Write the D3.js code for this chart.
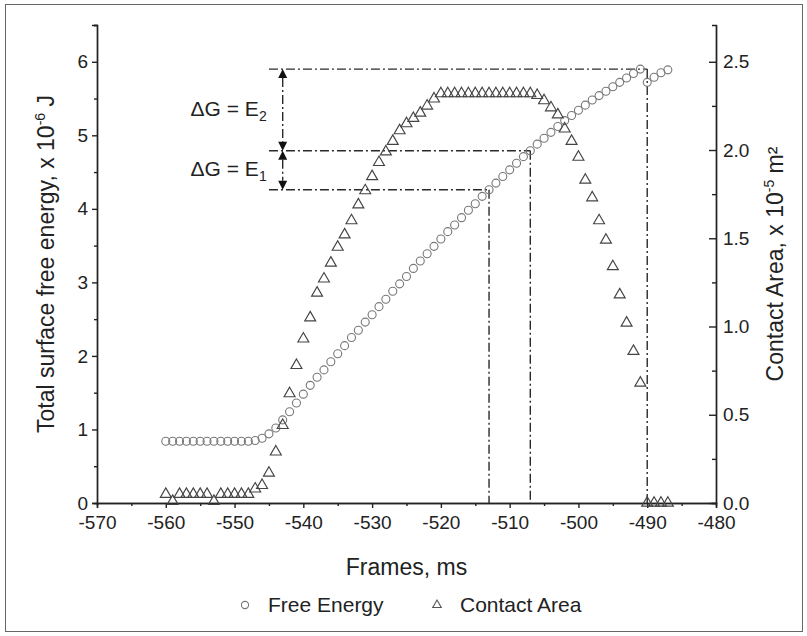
<!DOCTYPE html>
<html>
<head>
<meta charset="utf-8">
<script src="https://cdn.jsdelivr.net/npm/d3@7"></script>
<style>
  body { margin: 0; background: #fff; }
  text { font-family: "Liberation Sans", Arial, sans-serif; fill: #222; }
</style>
</head>
<body>
<div class="chart"></div>
<script>
// frames (ms), shared by both series
const frames = [
  -560, -559, -558, -557, -556, -555, -554, -553, -552, -551, -550, -549, -548, -547,
  -546, -545, -544, -543, -542, -541, -540, -539, -538, -537, -536, -535, -534, -533,
  -532, -531, -530, -529, -528, -527, -526, -525, -524, -523, -522, -521, -520, -519,
  -518, -517, -516, -515, -514, -513, -512, -511, -510, -509, -508, -507, -506, -505,
  -504, -503, -502, -501, -500, -499, -498, -497, -496, -495, -494, -493, -492, -491,
  -490, -489, -488, -487
]

// total surface free energy, x 10^-6 J
const energy = [
  0.84, 0.84, 0.84, 0.84, 0.84, 0.84, 0.84, 0.84, 0.84, 0.84, 0.84, 0.84, 0.84, 0.85,
  0.88, 0.94, 1.02, 1.13, 1.24, 1.36, 1.48, 1.60, 1.71, 1.81, 1.92, 2.03, 2.14, 2.25,
  2.35, 2.46, 2.56, 2.67, 2.77, 2.88, 2.98, 3.08, 3.19, 3.29, 3.39, 3.49, 3.59, 3.69,
  3.78, 3.88, 3.98, 4.07, 4.17, 4.26, 4.35, 4.44, 4.53, 4.62, 4.71, 4.79, 4.88, 4.96,
  5.04, 5.12, 5.20, 5.27, 5.34, 5.41, 5.48, 5.54, 5.60, 5.66, 5.72, 5.78, 5.84, 5.90,
  5.72, 5.79, 5.85, 5.89
]

// contact area, x 10^-5 m2
const area = [
  0.05, 0.01, 0.05, 0.05, 0.05, 0.05, 0.05, 0.01, 0.05, 0.05, 0.05, 0.05, 0.05, 0.08,
  0.10, 0.17, 0.29, 0.44, 0.62, 0.78, 0.93, 1.05, 1.19, 1.27, 1.36, 1.45, 1.52, 1.60,
  1.69, 1.77, 1.85, 1.93, 1.99, 2.05, 2.11, 2.15, 2.18, 2.21, 2.25, 2.29, 2.32, 2.32,
  2.32, 2.32, 2.32, 2.32, 2.32, 2.32, 2.32, 2.32, 2.32, 2.32, 2.32, 2.32, 2.31, 2.28,
  2.24, 2.20, 2.12, 2.05, 1.96, 1.83, 1.73, 1.60, 1.49, 1.34, 1.18, 1.02, 0.86, 0.68,
  0.00, 0.00, 0.00, 0.00
]

const xTicks = [-570, -560, -550, -540, -530, -520, -510, -500, -490, -480]
const leftTicks = [0, 1, 2, 3, 4, 5, 6]
const rightTicks = [0, 0.5, 1.0, 1.5, 2.0, 2.5]

// dash-dot guide lines: energy levels and the frames where they are reached
const levelE = [5.90, 4.79, 4.26]
const levelFrame = [-490, -507, -513]
const guideStart = -545
const arrowFrame = -543

const width = 807
const height = 636
const plotL = 97, plotR = 716, plotT = 25, plotB = 503
const tickFont = "19px", titleFont = "23px", legendFont = "21px"

const x = d3.scaleLinear().domain([-570, -480]).range([plotL, plotR])
const y = d3.scaleLinear().domain([0, 6.5]).range([plotB, plotT])
const y2 = d3.scaleLinear().domain([0, 6.5 * 2.5 / 6]).range([plotB, plotT])

const svg = d3.select(".chart").append("svg")
  .attr("width", width)
  .attr("height", height)

svg.append("rect")
  .attr("x", 5.5).attr("y", 4.5)
  .attr("width", 797).attr("height", 627)
  .attr("fill", "none").attr("stroke", "#666").attr("stroke-width", 1)

function styleAxis(g) {
  g.selectAll(".domain, line").attr("stroke", "#222").attr("stroke-width", 1.4)
  g.selectAll("text").attr("font-size", tickFont).attr("fill", "#222")
    .attr("font-family", "Liberation Sans, Arial, sans-serif")
}

// minor ticks
const xMinor = xTicks.slice(0, -1).map(v => v + 5)
svg.append("g").attr("transform", `translate(0,${plotB})`)
  .call(d3.axisBottom(x).tickValues(xMinor).tickFormat("").tickSize(3))
  .call(styleAxis)
const leftMinor = leftTicks.map(v => v + 0.5)
svg.append("g").attr("transform", `translate(${plotL},0)`)
  .call(d3.axisLeft(y).tickValues(leftMinor).tickFormat("").tickSize(3))
  .call(styleAxis)
const rightMinor = rightTicks.slice(0, -1).map(v => v + 0.25)
svg.append("g").attr("transform", `translate(${plotR},0)`)
  .call(d3.axisRight(y2).tickValues(rightMinor).tickFormat("").tickSizeInner(-4).tickSizeOuter(-4))
  .call(styleAxis)

// major axes
svg.append("g").attr("transform", `translate(0,${plotB})`)
  .call(d3.axisBottom(x).tickValues(xTicks).tickFormat(d => String(d)).tickSize(5).tickPadding(8))
  .call(styleAxis)
svg.append("g").attr("transform", `translate(${plotL},0)`)
  .call(d3.axisLeft(y).tickValues(leftTicks).tickFormat(d => String(d)).tickSize(5).tickPadding(4))
  .call(styleAxis)
svg.append("g").attr("transform", `translate(${plotR},0)`)
  .call(d3.axisRight(y2).tickValues(rightTicks).tickFormat(d3.format(".1f")).tickSizeInner(-7).tickSizeOuter(0).tickPadding(7))
  .call(styleAxis)

// guide lines
const dash = "9,3,2,3"
const guides = svg.append("g").attr("stroke", "#2a2a2a").attr("stroke-width", 1.4)
  .attr("stroke-dasharray", dash).attr("fill", "none")
levelE.forEach((e, i) => {
  guides.append("line")
    .attr("x1", x(guideStart)).attr("x2", x(levelFrame[i]))
    .attr("y1", y(e)).attr("y2", y(e))
  guides.append("line")
    .attr("x1", x(levelFrame[i])).attr("x2", x(levelFrame[i]))
    .attr("y1", y(e)).attr("y2", y(0))
})

// double-headed arrows for the two energy gaps
const gaps = [[levelE[0], levelE[1]], [levelE[1], levelE[2]]]
const ax = x(arrowFrame)
const head = 9
gaps.forEach(([hi, lo]) => {
  guides.append("line")
    .attr("x1", ax).attr("x2", ax)
    .attr("y1", y(hi) + head).attr("y2", y(lo) - head)
  svg.append("path")
    .attr("d", `M${ax},${y(hi)} l-4.5,${head} l9,0 z`).attr("fill", "#111")
  svg.append("path")
    .attr("d", `M${ax},${y(lo)} l-4.5,${-head} l9,0 z`).attr("fill", "#111")
})

const gapLabels = ["2", "1"]
gaps.forEach(([hi, lo], i) => {
  const t = svg.append("text")
    .attr("x", ax - 16).attr("y", (y(hi) + y(lo)) / 2 + 6)
    .attr("text-anchor", "end").attr("font-size", "21px")
  t.append("tspan").text("\u0394G = E")
  t.append("tspan").attr("font-size", "14px").attr("dy", 5).text(gapLabels[i])
})

// series
const pts = frames.map((f, i) => ({ f, e: energy[i], a: area[i] }))

svg.append("g").selectAll("circle")
  .data(pts).enter().append("circle")
  .attr("cx", d => x(d.f)).attr("cy", d => y(d.e))
  .attr("r", 4)
  .attr("fill", "none").attr("stroke", "#777").attr("stroke-width", 1.1)

const tri = d3.symbol().type(d3.symbolTriangle).size(52)
svg.append("g").selectAll("path")
  .data(pts).enter().append("path")
  .attr("d", tri)
  .attr("transform", d => `translate(${x(d.f)},${y2(d.a)})`)
  .attr("fill", "none").attr("stroke", "#444").attr("stroke-width", 1.15)

// axis titles
svg.append("text")
  .attr("transform", `translate(${54},${(plotT + plotB) / 2}) rotate(-90)`)
  .attr("text-anchor", "middle").attr("font-size", titleFont)
  .call(t => {
    t.append("tspan").text("Total surface free energy, x 10")
    t.append("tspan").attr("font-size", "14px").attr("dy", -9).text("-6")
    t.append("tspan").attr("dy", 9).text(" J")
  })

svg.append("text")
  .attr("transform", `translate(${783},${(plotT + plotB) / 2}) rotate(-90)`)
  .attr("text-anchor", "middle").attr("font-size", titleFont)
  .call(t => {
    t.append("tspan").text("Contact Area, x 10")
    t.append("tspan").attr("font-size", "14px").attr("dy", -9).text("-5")
    t.append("tspan").attr("dy", 9).text(" m\u00b2")
  })

svg.append("text")
  .attr("x", (plotL + plotR) / 2).attr("y", 575)
  .attr("text-anchor", "middle").attr("font-size", titleFont)
  .text("Frames, ms")

// legend
const legend = svg.append("g").attr("transform", "translate(0,605)")
legend.append("circle").attr("cx", 245).attr("cy", 0).attr("r", 3.6)
  .attr("fill", "none").attr("stroke", "#777").attr("stroke-width", 1.1)
legend.append("text").attr("x", 268).attr("y", 7).attr("font-size", legendFont).text("Free Energy")
legend.append("path").attr("d", d3.symbol().type(d3.symbolTriangle).size(32))
  .attr("transform", "translate(437,0)")
  .attr("fill", "none").attr("stroke", "#555").attr("stroke-width", 1.1)
legend.append("text").attr("x", 460).attr("y", 7).attr("font-size", legendFont).text("Contact Area")
</script>
</body>
</html>
